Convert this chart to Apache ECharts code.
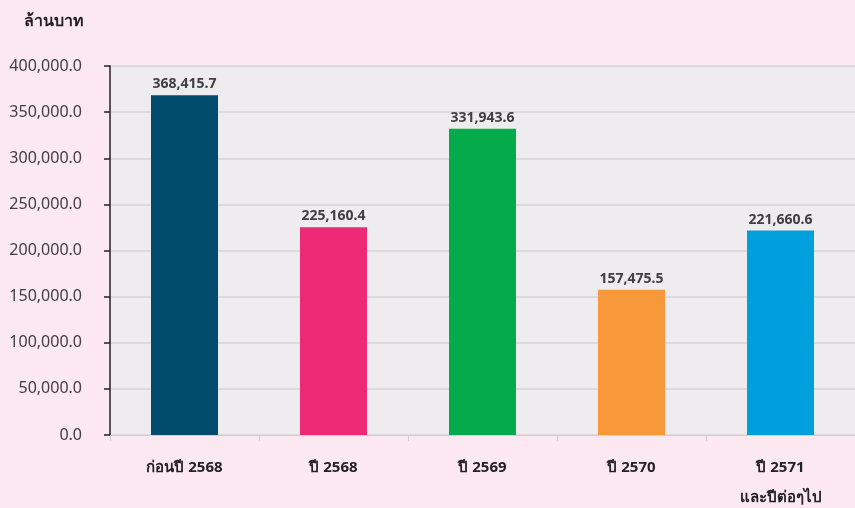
<!DOCTYPE html>
<html>
<head>
<meta charset="utf-8">
<script src="https://cdn.jsdelivr.net/npm/echarts@6/dist/echarts.min.js"></script>
<style>
  html, body { margin: 0; padding: 0; background: #fce8f1; }
  #chart { width: 855px; height: 508px; }
</style>
</head>
<body>
<div id="chart"></div>
<script>
// categories and values
var categories = ['ก่อนปี 2568', 'ปี 2568', 'ปี 2569', 'ปี 2570', 'ปี 2571\nและปีต่อๆไป'];
var values = [368415.7, 225160.4, 331943.6, 157475.5, 221660.6];
var barColors = ['#004c6d', '#ee2a76', '#05ab4b', '#f7993a', '#009fde'];

var font = 'Noto Sans, Tahoma, sans-serif';

function fmt(v) {
    return v.toLocaleString('en-US', { minimumFractionDigits: 1, maximumFractionDigits: 1 });
}

var myChart = echarts.init(document.getElementById('chart'));

var option = {
    backgroundColor: '#fce8f1',
    title: {
        text: 'ล้านบาท',
        left: 19,
        top: 8,
        textStyle: { fontFamily: font, fontSize: 16, fontWeight: 'bold', color: '#222' }
    },
    grid: {
        left: 110, right: 0, top: 66, bottom: 73,
        outerBoundsMode: 'none',
        containLabel: false,
        show: true, backgroundColor: '#eeecee', borderWidth: 0
    },
    xAxis: {
        type: 'category',
        data: categories,
        axisLine: { lineStyle: { color: '#d0d0d0', width: 1 } },
        axisTick: { show: true, length: 6, lineStyle: { color: '#d0d0d0' } },
        axisLabel: {
            margin: 18, fontFamily: font, fontSize: 15, fontWeight: 'bold',
            color: '#222', lineHeight: 30
        }
    },
    yAxis: {
        type: 'value',
        min: 0, max: 400000, interval: 50000,
        axisLine: { show: true, lineStyle: { color: '#222', width: 1.5 } },
        axisTick: { show: true, length: 6, lineStyle: { color: '#222', width: 1.5 } },
        splitLine: { lineStyle: { color: '#d6d4d6', width: 1.5 } },
        axisLabel: {
            margin: 28, fontFamily: font, fontSize: 16, color: '#404040',
            formatter: fmt
        }
    },
    series: [{
        type: 'bar',
        barWidth: 67,
        data: values.map(function (v, i) {
            return { value: v, itemStyle: { color: barColors[i] } };
        }),
        label: {
            show: true, position: 'top', distance: 4,
            fontFamily: font, fontSize: 14, fontWeight: 'bold', color: '#404040',
            formatter: function (p) { return fmt(p.value); }
        }
    }]
};

myChart.setOption(option);
</script>
</body>
</html>
